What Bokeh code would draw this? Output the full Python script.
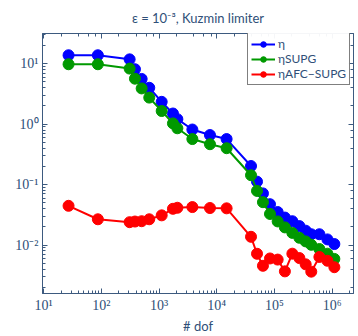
from bokeh.plotting import figure
from bokeh.models import (LogAxis, LogTicker, CustomJSTickFormatter, Range1d, Legend, LegendItem)
from bokeh.embed import file_html
from bokeh.resources import INLINE

dof = [27, 87, 309, 382, 499, 676, 1110, 1740, 2075, 3775, 7620, 14800, 39200, 49800,
       63100, 83600, 113500, 151500, 204000, 270000, 347000, 434000, 600000, 827000, 1090000]
eta = [13.8, 13.8, 11.8, 8.1, 5.6, 4.0, 2.34, 1.50, 1.21, 0.815, 0.66, 0.567, 0.203, 0.112,
       0.0715, 0.0474, 0.0352, 0.0285, 0.0248, 0.0206, 0.0173, 0.0151, 0.0151, 0.0124, 0.0104]
eta_supg = [9.8, 9.8, 8.3, 5.65, 3.9, 2.75, 1.65, 1.03, 0.855, 0.567, 0.466, 0.40, 0.143, 0.0787,
            0.0512, 0.0327, 0.0246, 0.0196, 0.0159, 0.0132, 0.0115, 0.0101, 0.0086, 0.0072, 0.0059]
eta_afc = [0.0446, 0.0267, 0.0239, 0.0245, 0.0248, 0.0267, 0.031, 0.0398, 0.0414, 0.0425, 0.041,
           0.0405, 0.0137, 0.00718, 0.00454, 0.006, 0.00575, 0.00367, 0.0072, 0.0061, 0.0048,
           0.00363, 0.00635, 0.0055, 0.0043]
labels = ["η", "ηSUPG", "ηAFC−SUPG"]
colors = ["#0000ff", "#009900", "#ff0000"]

AX = "#3d5a7f"
TXT = "#2f4f78"

p = figure(width=358, height=336, x_axis_type="log", y_axis_type="log",
           output_backend="svg", toolbar_location=None,
           x_range=Range1d(9.55, 2.34e6), y_range=Range1d(0.00158, 31.6),
           min_border_left=42, min_border_right=5, min_border_top=4, min_border_bottom=3)
p.title.text = "ε = 10⁻³, Kuzmin limiter"
p.title.align = "center"
p.title.text_font = "Lato"
p.title.text_font_size = "13px"
p.title.text_font_style = "normal"
p.title.text_color = TXT
p.title.standoff = 15
p.grid.visible = False
p.outline_line_color = AX
p.background_fill_color = "white"

fmt = CustomJSTickFormatter(code="""
const sup = {"-":"\u207b","0":"\u2070","1":"\u00b9","2":"\u00b2","3":"\u00b3","4":"\u2074","5":"\u2075","6":"\u2076","7":"\u2077","8":"\u2078","9":"\u2079"};
const e = Math.round(Math.log10(tick));
return "10" + String(e).split("").map(c => sup[c]).join("");
""")

def style(ax, show_labels=True):
    ax.axis_line_color = AX
    ax.major_tick_line_color = AX
    ax.minor_tick_line_color = AX
    ax.major_tick_in = 5
    ax.major_tick_out = 0
    ax.minor_tick_in = 3
    ax.minor_tick_out = 0
    if show_labels:
        ax.formatter = fmt
        ax.major_label_text_font = "Liberation Serif"
        ax.major_label_text_font_size = "14px"
        ax.major_label_text_color = TXT
        ax.major_label_standoff = 4
    else:
        ax.major_label_text_font_size = "1px"
        ax.major_label_text_color = None
        ax.major_label_standoff = 0

style(p.xaxis[0])
style(p.yaxis[0])
p.xaxis[0].axis_label = "# dof"
p.xaxis[0].axis_label_text_font = "Lato"
p.xaxis[0].axis_label_text_font_style = "normal"
p.xaxis[0].axis_label_text_font_size = "13px"
p.xaxis[0].axis_label_text_color = TXT
p.xaxis[0].axis_label_standoff = 2

top = LogAxis(ticker=LogTicker())
right = LogAxis(ticker=LogTicker())
style(top, False)
style(right, False)
p.add_layout(top, "above")
p.add_layout(right, "right")

items = []
for ys, lab, c in zip([eta, eta_supg, eta_afc], labels, colors):
    l = p.line(dof, ys, line_color=c, line_width=2)
    s = p.scatter(dof, ys, size=11, fill_color=c, line_color=c)
    items.append(LegendItem(label=lab, renderers=[l, s]))

leg = Legend(items=items, location=(205, 208))
leg.border_line_color = "black"
leg.border_line_width = 1
leg.label_text_font = "Lato"
leg.label_text_font_size = "12px"
leg.label_text_color = TXT
leg.glyph_width = 24
leg.glyph_height = 14
leg.label_height = 14
leg.spacing = 0
leg.padding = 3
leg.margin = 0
leg.label_standoff = 3
p.add_layout(leg)

open("out.html", "w").write(file_html(p, INLINE))
